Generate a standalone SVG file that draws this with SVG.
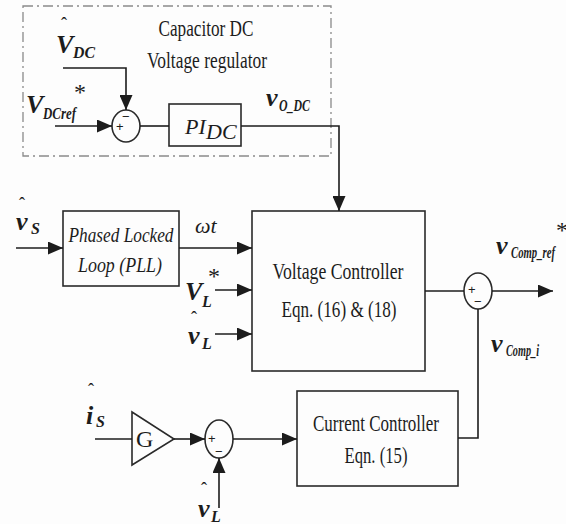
<svg xmlns="http://www.w3.org/2000/svg" width="566" height="524" viewBox="0 0 566 524">
<style>
.ln{stroke:#1c1c1c;stroke-width:1.6;fill:none}
.box{stroke:#2a2a2a;stroke-width:1.6;fill:none}
.dash{stroke:#8a8a8a;stroke-width:1.3;fill:none;stroke-dasharray:10 4 2 4}
.t{font-family:"Liberation Serif",serif;fill:#1c1c1c;font-size:24px}
.ti{font-family:"Liberation Serif",serif;fill:#1c1c1c;font-size:22px;font-style:italic}
.m{font-family:"Liberation Serif",serif;font-style:italic;font-weight:bold;fill:#1c1c1c;font-size:26px}
.s{font-family:"Liberation Serif",serif;font-style:italic;font-weight:bold;fill:#1c1c1c;font-size:16px}
.h{font-family:"Liberation Serif",serif;fill:#1c1c1c;font-size:18px}
.sg{font-family:"Liberation Sans",sans-serif;fill:#1c1c1c;font-size:13px}
</style>
<defs>
<marker id="ah" markerWidth="15" markerHeight="13" refX="15" refY="6.5" orient="auto" markerUnits="userSpaceOnUse">
<path d="M0,0L15,6.5L0,13z" fill="#1c1c1c"/>
</marker>
</defs>
<rect width="566" height="524" fill="#fdfdfd"/>

<g id="dc-regulator-frame">
<rect class="dash" x="23" y="6" width="308" height="150"/>
<text class="t" x="206" y="36" text-anchor="middle" textLength="95" lengthAdjust="spacingAndGlyphs">Capacitor DC</text>
<text class="t" x="207" y="68" text-anchor="middle" textLength="120" lengthAdjust="spacingAndGlyphs">Voltage regulator</text>
</g>

<g id="sum-dc">
<ellipse class="box" cx="126" cy="126" rx="14" ry="16"/>
<text class="sg" x="116" y="131">+</text>
<text class="sg" x="122" y="121">−</text>
</g>

<g id="pi-dc">
<rect class="box" x="169" y="104" width="72" height="42"/>
<text class="ti" x="185" y="134" font-size="24">PI</text>
<text class="ti" x="206" y="139" font-size="15">DC</text>
</g>

<g id="pll">
<rect class="box" x="63" y="211" width="116" height="75"/>
<text class="ti" x="121" y="242" text-anchor="middle" textLength="105" lengthAdjust="spacingAndGlyphs">Phased Locked</text>
<text class="ti" x="120" y="272" text-anchor="middle" textLength="84" lengthAdjust="spacingAndGlyphs">Loop (PLL)</text>
</g>

<g id="voltage-controller">
<rect class="box" x="252" y="211" width="173" height="160"/>
<text class="t" x="338" y="279" text-anchor="middle" textLength="131" lengthAdjust="spacingAndGlyphs">Voltage Controller</text>
<text class="t" x="339" y="317" text-anchor="middle" textLength="115" lengthAdjust="spacingAndGlyphs">Eqn. (16) &amp; (18)</text>
</g>

<g id="sum-out">
<ellipse class="box" cx="478" cy="291" rx="14" ry="18"/>
<text class="sg" x="468" y="294">+</text>
<text class="sg" x="474" y="306">−</text>
</g>

<g id="gain-g">
<path class="box" d="M132,412L174,439L132,465z"/>
<text class="t" x="136" y="447" font-size="20">G</text>
</g>

<g id="sum-current">
<ellipse class="box" cx="219" cy="439" rx="14" ry="19"/>
<text class="sg" x="208" y="443">+</text>
<text class="sg" x="215" y="456">−</text>
</g>

<g id="current-controller">
<rect class="box" x="297" y="391" width="161" height="95"/>
<text class="t" x="376" y="431" text-anchor="middle" textLength="126" lengthAdjust="spacingAndGlyphs">Current Controller</text>
<text class="t" x="376" y="463" text-anchor="middle" textLength="63" lengthAdjust="spacingAndGlyphs">Eqn. (15)</text>
</g>

<g id="connectors">
<path class="ln" d="M63,68H126V110" marker-end="url(#ah)"/>
<path class="ln" d="M55,126H112" marker-end="url(#ah)"/>
<path class="ln" d="M140,126H169"/>
<path class="ln" d="M241,126H339V211" marker-end="url(#ah)"/>
<path class="ln" d="M16,248H63" marker-end="url(#ah)"/>
<path class="ln" d="M179,248H252" marker-end="url(#ah)"/>
<path class="ln" d="M215,290H252" marker-end="url(#ah)"/>
<path class="ln" d="M215,334H252" marker-end="url(#ah)"/>
<path class="ln" d="M425,291H464"/>
<path class="ln" d="M492,291H553" marker-end="url(#ah)"/>
<path class="ln" d="M478,309V438H458"/>
<path class="ln" d="M95,439H132"/>
<path class="ln" d="M174,439H205" marker-end="url(#ah)"/>
<path class="ln" d="M233,439H297" marker-end="url(#ah)"/>
<path class="ln" d="M219,508V458" marker-end="url(#ah)"/>
</g>

<g id="labels">
<text class="h" x="61" y="30">ˆ</text>
<text class="m" x="56" y="53">V</text>
<text class="s" x="73" y="58" textLength="22" lengthAdjust="spacingAndGlyphs">DC</text>

<text class="m" x="26" y="113">V</text>
<text class="s" x="43" y="119" font-size="14" textLength="33" lengthAdjust="spacingAndGlyphs">DCref</text>
<text class="t" x="74" y="100" font-size="14">*</text>

<text class="m" x="266" y="106" font-size="24">v</text>
<text class="s" x="279" y="111" font-size="14" textLength="31" lengthAdjust="spacingAndGlyphs">O_DC</text>

<text class="h" x="19" y="210">ˆ</text>
<text class="m" x="16" y="230" font-size="24">v</text>
<text class="s" x="31" y="234">S</text>

<text class="ti" x="195" y="233">ωt</text>

<text class="m" x="185" y="300" font-size="24">V</text>
<text class="s" x="202" y="307">L</text>
<text class="t" x="208" y="284" font-size="13">*</text>

<text class="h" x="191" y="324">ˆ</text>
<text class="m" x="188" y="344" font-size="24">v</text>
<text class="s" x="202" y="349">L</text>

<text class="m" x="496" y="254" font-size="24">v</text>
<text class="s" x="511" y="258" font-size="13" textLength="44" lengthAdjust="spacingAndGlyphs">Comp_ref</text>
<text class="t" x="556" y="238" font-size="12">*</text>

<text class="m" x="491" y="352" font-size="24">v</text>
<text class="s" x="506" y="356" font-size="13" textLength="33" lengthAdjust="spacingAndGlyphs">Comp_i</text>

<text class="h" x="88" y="396">ˆ</text>
<text class="m" x="86" y="424" font-size="24">i</text>
<text class="s" x="96" y="427">S</text>

<text class="h" x="201" y="495">ˆ</text>
<text class="m" x="198" y="517" font-size="24">v</text>
<text class="s" x="211" y="522">L</text>
</g>
</svg>
